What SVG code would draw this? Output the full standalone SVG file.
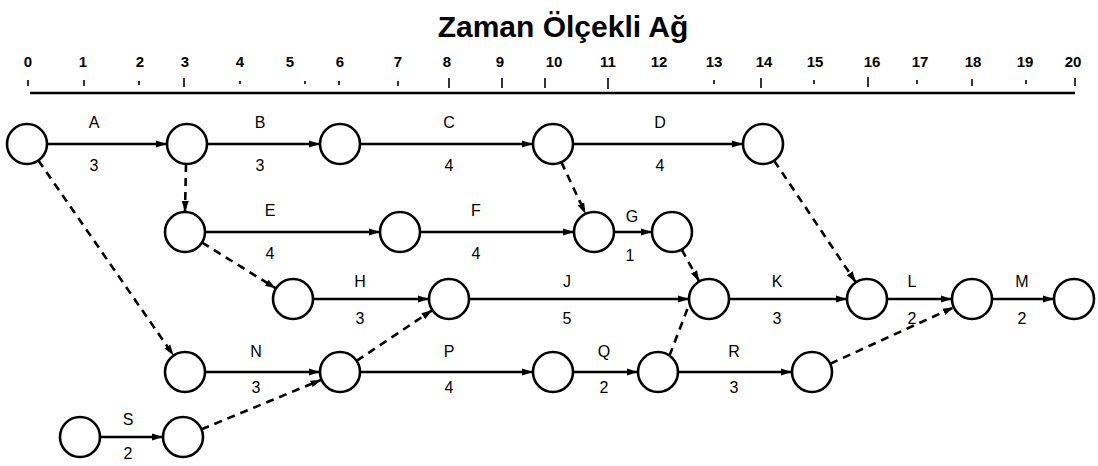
<svg xmlns="http://www.w3.org/2000/svg" width="1098" height="466" viewBox="0 0 1098 466">
<style>
.title{font-family:"Liberation Sans",Arial,sans-serif;font-weight:bold;font-size:30px;fill:#000}
.num{font-family:"Liberation Sans",Arial,sans-serif;font-weight:bold;font-size:15px;fill:#000;text-anchor:middle}
.lbl{font-family:"Liberation Sans",Arial,sans-serif;font-size:16px;fill:#000;text-anchor:middle}
.node{fill:#fff;stroke:#000;stroke-width:2.6}
.act{stroke:#000;stroke-width:2.6;fill:none;marker-end:url(#ah)}
.dum{stroke:#000;stroke-width:2.6;fill:none;stroke-dasharray:8 6;marker-end:url(#ah)}
.tick{stroke:#000;stroke-width:1.6}
</style>
<defs>
<marker id="ah" markerUnits="userSpaceOnUse" markerWidth="12" markerHeight="8" refX="11" refY="4" orient="auto">
<path d="M0,0.5 L11,4 L0,7.5 z" fill="#000"/>
</marker>
</defs>
<rect width="1098" height="466" fill="#fff"/>
<text class="title" x="563" y="37" text-anchor="middle">Zaman Ölçekli Ağ</text>
<g id="scale">
<line x1="30" y1="93" x2="1075" y2="93" stroke="#000" stroke-width="2.6"/>
<g class="num">
<text x="28" y="67">0</text><text x="83" y="67">1</text><text x="140" y="67">2</text><text x="185" y="67">3</text><text x="240" y="67">4</text><text x="290" y="67">5</text><text x="340" y="67">6</text><text x="398" y="67">7</text><text x="447" y="67">8</text><text x="500" y="67">9</text><text x="554" y="67">10</text><text x="608" y="67">11</text><text x="659" y="67">12</text><text x="714" y="67">13</text><text x="764" y="67">14</text><text x="815" y="67">15</text><text x="872" y="67">16</text><text x="920" y="67">17</text><text x="973" y="67">18</text><text x="1025" y="67">19</text><text x="1073" y="67">20</text>
</g>
<g class="tick">
<line x1="28" y1="80" x2="28" y2="86"/><line x1="84" y1="80" x2="84" y2="86"/><line x1="139" y1="81" x2="139" y2="85"/><line x1="184" y1="78" x2="184" y2="87"/><line x1="240" y1="81" x2="240" y2="84"/><line x1="305" y1="81" x2="305" y2="84"/><line x1="339" y1="81" x2="339" y2="85"/><line x1="398" y1="81" x2="398" y2="86"/><line x1="449" y1="78" x2="449" y2="88"/><line x1="502" y1="78" x2="502" y2="88"/><line x1="545" y1="78" x2="545" y2="88"/><line x1="608" y1="78" x2="608" y2="89"/><line x1="714" y1="80" x2="714" y2="84"/><line x1="761" y1="78" x2="761" y2="88"/><line x1="814" y1="80" x2="814" y2="84"/><line x1="868" y1="77" x2="868" y2="87"/><line x1="917" y1="80" x2="917" y2="84"/><line x1="972" y1="79" x2="972" y2="86"/><line x1="1026" y1="80" x2="1026" y2="84"/><line x1="1075" y1="78" x2="1075" y2="86"/>
</g>
</g>
<g id="connectors">
<line class="act" x1="47" y1="144" x2="167" y2="144"/>
<line class="act" x1="207" y1="144" x2="320" y2="144"/>
<line class="act" x1="360" y1="144" x2="533" y2="144"/>
<line class="act" x1="573" y1="144" x2="743" y2="144"/>
<line class="act" x1="205" y1="232" x2="380" y2="232"/>
<line class="act" x1="420" y1="232" x2="574" y2="232"/>
<line class="act" x1="614" y1="232" x2="652" y2="232"/>
<line class="act" x1="313" y1="299" x2="429" y2="299"/>
<line class="act" x1="469" y1="299" x2="689" y2="299"/>
<line class="act" x1="729" y1="299" x2="847" y2="299"/>
<line class="act" x1="887" y1="299" x2="952" y2="299"/>
<line class="act" x1="992" y1="299" x2="1054" y2="299"/>
<line class="act" x1="205" y1="372" x2="320" y2="372"/>
<line class="act" x1="360" y1="372" x2="533" y2="372"/>
<line class="act" x1="573" y1="372" x2="638" y2="372"/>
<line class="act" x1="678" y1="372" x2="792" y2="372"/>
<line class="act" x1="100" y1="437" x2="163" y2="437"/>
<line class="dum" x1="186" y1="164" x2="185" y2="212"/>
<line class="dum" x1="38.4" y1="160.5" x2="173.6" y2="355.5"/>
<line class="dum" x1="202" y1="242.5" x2="276" y2="288.5"/>
<line class="dum" x1="561.4" y1="162.1" x2="585.6" y2="213.9"/>
<line class="dum" x1="681.7" y1="249.5" x2="699.3" y2="281.5"/>
<line class="dum" x1="774.1" y1="160.6" x2="855.9" y2="282.4"/>
<line class="dum" x1="356.6" y1="360.9" x2="432.4" y2="310.1"/>
<line class="dum" x1="201.5" y1="429.3" x2="321.5" y2="379.7"/>
<line class="dum" x1="669.5" y1="355.6" x2="697.5" y2="282.6"/>
<line class="dum" x1="830.2" y1="363.7" x2="953.8" y2="307.3"/>
</g>
<g id="labels">
<text class="lbl" x="94" y="128">A</text><text class="lbl" x="94" y="171">3</text>
<text class="lbl" x="260" y="128">B</text><text class="lbl" x="260" y="171">3</text>
<text class="lbl" x="449" y="128">C</text><text class="lbl" x="449" y="171">4</text>
<text class="lbl" x="660" y="128">D</text><text class="lbl" x="660" y="171">4</text>
<text class="lbl" x="270" y="216">E</text><text class="lbl" x="270" y="259">4</text>
<text class="lbl" x="476" y="216">F</text><text class="lbl" x="476" y="259">4</text>
<text class="lbl" x="632" y="222">G</text><text class="lbl" x="630" y="261">1</text>
<text class="lbl" x="360" y="287">H</text><text class="lbl" x="360" y="324">3</text>
<text class="lbl" x="567" y="287">J</text><text class="lbl" x="567" y="324">5</text>
<text class="lbl" x="777" y="287">K</text><text class="lbl" x="777" y="324">3</text>
<text class="lbl" x="912" y="287">L</text><text class="lbl" x="912" y="324">2</text>
<text class="lbl" x="1022" y="287">M</text><text class="lbl" x="1022" y="324">2</text>
<text class="lbl" x="256" y="357">N</text><text class="lbl" x="256" y="393">3</text>
<text class="lbl" x="449" y="357">P</text><text class="lbl" x="449" y="393">4</text>
<text class="lbl" x="604" y="357">Q</text><text class="lbl" x="604" y="393">2</text>
<text class="lbl" x="734" y="357">R</text><text class="lbl" x="734" y="393">3</text>
<text class="lbl" x="128" y="425">S</text><text class="lbl" x="128" y="459">2</text>
</g>
<g id="n0"><circle class="node" cx="27" cy="144" r="20"/></g>
<g id="n3"><circle class="node" cx="187" cy="144" r="20"/></g>
<g id="n6"><circle class="node" cx="340" cy="144" r="20"/></g>
<g id="n10"><circle class="node" cx="553" cy="144" r="20"/></g>
<g id="n14"><circle class="node" cx="763" cy="144" r="20"/></g>
<g id="e3"><circle class="node" cx="185" cy="232" r="20"/></g>
<g id="e7"><circle class="node" cx="400" cy="232" r="20"/></g>
<g id="f11"><circle class="node" cx="594" cy="232" r="20"/></g>
<g id="g12"><circle class="node" cx="672" cy="232" r="20"/></g>
<g id="h5"><circle class="node" cx="293" cy="299" r="20"/></g>
<g id="h8"><circle class="node" cx="449" cy="299" r="20"/></g>
<g id="k13"><circle class="node" cx="709" cy="299" r="20"/></g>
<g id="l16"><circle class="node" cx="867" cy="299" r="20"/></g>
<g id="m18"><circle class="node" cx="972" cy="299" r="20"/></g>
<g id="end20"><circle class="node" cx="1074" cy="299" r="20"/></g>
<g id="n3b"><circle class="node" cx="185" cy="372" r="20"/></g>
<g id="p6"><circle class="node" cx="340" cy="372" r="20"/></g>
<g id="q10"><circle class="node" cx="553" cy="372" r="20"/></g>
<g id="r12"><circle class="node" cx="658" cy="372" r="20"/></g>
<g id="r15"><circle class="node" cx="812" cy="372" r="20"/></g>
<g id="s0"><circle class="node" cx="80" cy="437" r="20"/></g>
<g id="s2"><circle class="node" cx="183" cy="437" r="20"/></g>
</svg>
